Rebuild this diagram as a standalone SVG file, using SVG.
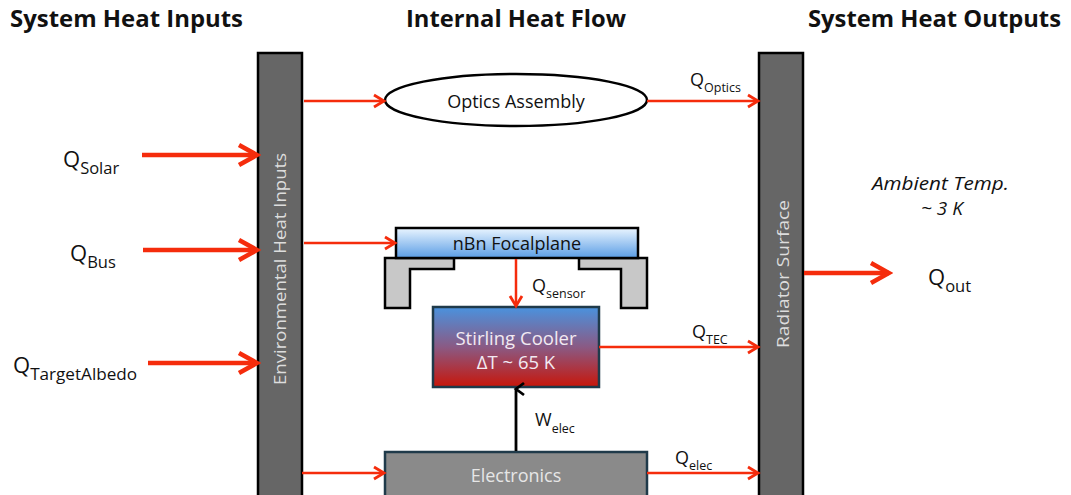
<svg xmlns="http://www.w3.org/2000/svg" width="1071" height="495" viewBox="0 0 1071 495">
<defs>
<style>
text{font-family:"Open Sans","Liberation Sans",sans-serif;fill:#111}
.hdr{font-weight:bold;font-size:23px}
.bar{fill:#666;stroke:#000;stroke-width:2.5}
.bartxt{fill:#ddd;font-size:17px}
.big{stroke:#f52c0c;stroke-width:4.5;fill:none}
.sm{stroke:#f52c0c;stroke-width:2.5;fill:none}
.lblQ{font-size:22px}
.sub{font-size:16.5px}
.q2{font-size:18px}
.s2{font-size:12.5px}
</style>
<marker id="bigHead" markerUnits="userSpaceOnUse" markerWidth="26" markerHeight="26" viewBox="0 0 26 26" refX="22" refY="13" orient="auto">
<path d="M4,3 L22,13 L4,23" fill="none" stroke="#f52c0c" stroke-width="4.5"/>
</marker>
<marker id="smHead" markerUnits="userSpaceOnUse" markerWidth="16" markerHeight="16" viewBox="0 0 16 16" refX="13" refY="8" orient="auto">
<path d="M3,2 L13,8 L3,14" fill="none" stroke="#f52c0c" stroke-width="2.8"/>
</marker>
<marker id="blkHead" markerUnits="userSpaceOnUse" markerWidth="16" markerHeight="16" viewBox="0 0 16 16" refX="8" refY="3" orient="auto-start-reverse">
<path d="M2,11 L8,3 L14,11" fill="none" stroke="#000" stroke-width="2.8"/>
</marker>
<linearGradient id="fpGrad" x1="0" y1="0" x2="0" y2="1">
<stop offset="0" stop-color="#eaf5ff"/>
<stop offset="1" stop-color="#5a9de5"/>
</linearGradient>
<linearGradient id="scGrad" x1="0" y1="0" x2="0" y2="1">
<stop offset="0" stop-color="#4a92de"/>
<stop offset="0.5" stop-color="#8a5a84"/>
<stop offset="1" stop-color="#c8160a"/>
</linearGradient>
</defs>

<g id="headers">
<text class="hdr" x="10" y="27" textLength="233" lengthAdjust="spacingAndGlyphs">System Heat Inputs</text>
<text class="hdr" x="406" y="27" textLength="220" lengthAdjust="spacingAndGlyphs">Internal Heat Flow</text>
<text class="hdr" x="808" y="27" textLength="253" lengthAdjust="spacingAndGlyphs">System Heat Outputs</text>
</g>

<g id="env-inputs">
<rect class="bar" x="258" y="53" width="44" height="445"/>
<text class="bartxt" transform="translate(286,269) rotate(-90)" text-anchor="middle" textLength="232" lengthAdjust="spacingAndGlyphs">Environmental Heat Inputs</text>
</g>

<g id="radiator">
<rect class="bar" x="759" y="53" width="44" height="445"/>
<text class="bartxt" transform="translate(789,274) rotate(-90)" text-anchor="middle" textLength="148" lengthAdjust="spacingAndGlyphs">Radiator Surface</text>
</g>

<g id="optics">
<ellipse cx="516" cy="100" rx="131" ry="26" fill="#fff" stroke="#000" stroke-width="2.5"/>
<text x="516" y="108" font-size="18" text-anchor="middle">Optics Assembly</text>
</g>

<g id="focalplane">
<path d="M385,258 H454 V269 H410 V308 H385 Z" fill="#c8c8c8" stroke="#000" stroke-width="2.5"/>
<path d="M579,258 H647 V308 H621 V269 H579 Z" fill="#c8c8c8" stroke="#000" stroke-width="2.5"/>
<rect x="396" y="228" width="242" height="30" fill="url(#fpGrad)" stroke="#000" stroke-width="2.5"/>
<text x="517" y="250" font-size="18" text-anchor="middle">nBn Focalplane</text>
</g>

<g id="stirling">
<rect x="433" y="307" width="166" height="80" fill="url(#scGrad)" stroke="#1f3a4a" stroke-width="2.5"/>
<text x="516" y="345" font-size="18.5" text-anchor="middle" style="fill:#f2eaf2">Stirling Cooler</text>
<text x="516" y="369" font-size="18.5" text-anchor="middle" style="fill:#f2eaf2">ΔT ~ 65 K</text>
</g>

<g id="electronics">
<rect x="385" y="452" width="262" height="45" fill="#8a8a8a" stroke="#1f3a4a" stroke-width="2.5"/>
<text x="516" y="482" font-size="18" text-anchor="middle" style="fill:#e6e6e6">Electronics</text>
</g>

<g id="inputs-labels">
<text x="63" y="167"><tspan class="lblQ">Q</tspan><tspan class="sub" dy="7">Solar</tspan></text>
<text x="70" y="261"><tspan class="lblQ">Q</tspan><tspan class="sub" dy="7">Bus</tspan></text>
<text x="13" y="373"><tspan class="lblQ">Q</tspan><tspan class="sub" dy="7" textLength="107" lengthAdjust="spacingAndGlyphs">TargetAlbedo</tspan></text>
</g>

<g id="output-labels">
<text x="928" y="285"><tspan class="lblQ">Q</tspan><tspan class="sub" dy="7">out</tspan></text>
<text x="872" y="190" font-size="18.5" font-style="italic" textLength="137" lengthAdjust="spacingAndGlyphs">Ambient Temp.</text>
<text x="921" y="215" font-size="18.5" font-style="italic" textLength="42" lengthAdjust="spacingAndGlyphs">~ 3 K</text>
</g>

<g id="connectors">
<line class="big" x1="142" y1="155" x2="257" y2="155" marker-end="url(#bigHead)"/>
<line class="big" x1="143" y1="250" x2="257" y2="250" marker-end="url(#bigHead)"/>
<line class="big" x1="148" y1="363" x2="257" y2="363" marker-end="url(#bigHead)"/>
<line class="big" x1="804" y1="273" x2="889" y2="273" marker-end="url(#bigHead)"/>

<line class="sm" x1="304" y1="101" x2="384" y2="101" marker-end="url(#smHead)"/>
<line class="sm" x1="647" y1="101" x2="758" y2="101" marker-end="url(#smHead)"/>
<line class="sm" x1="304" y1="243" x2="395" y2="243" marker-end="url(#smHead)"/>
<line class="sm" x1="516" y1="259" x2="516" y2="306" marker-end="url(#smHead)"/>
<line class="sm" x1="599" y1="347" x2="758" y2="347" marker-end="url(#smHead)"/>
<line class="sm" x1="302" y1="473" x2="384" y2="473" marker-end="url(#smHead)"/>
<line class="sm" x1="647" y1="473" x2="758" y2="473" marker-end="url(#smHead)"/>
<line x1="516" y1="451" x2="516" y2="389" stroke="#000" stroke-width="2.8" marker-end="url(#blkHead)"/>

<text x="690" y="86"><tspan class="q2">Q</tspan><tspan class="s2" dy="6">Optics</tspan></text>
<text x="532" y="292"><tspan class="q2">Q</tspan><tspan class="s2" dy="6">sensor</tspan></text>
<text x="692" y="338"><tspan class="q2">Q</tspan><tspan class="s2" dy="6">TEC</tspan></text>
<text x="535" y="426"><tspan class="q2">W</tspan><tspan class="s2" dy="7">elec</tspan></text>
<text x="675" y="464"><tspan class="q2">Q</tspan><tspan class="s2" dy="6">elec</tspan></text>
</g>
</svg>
